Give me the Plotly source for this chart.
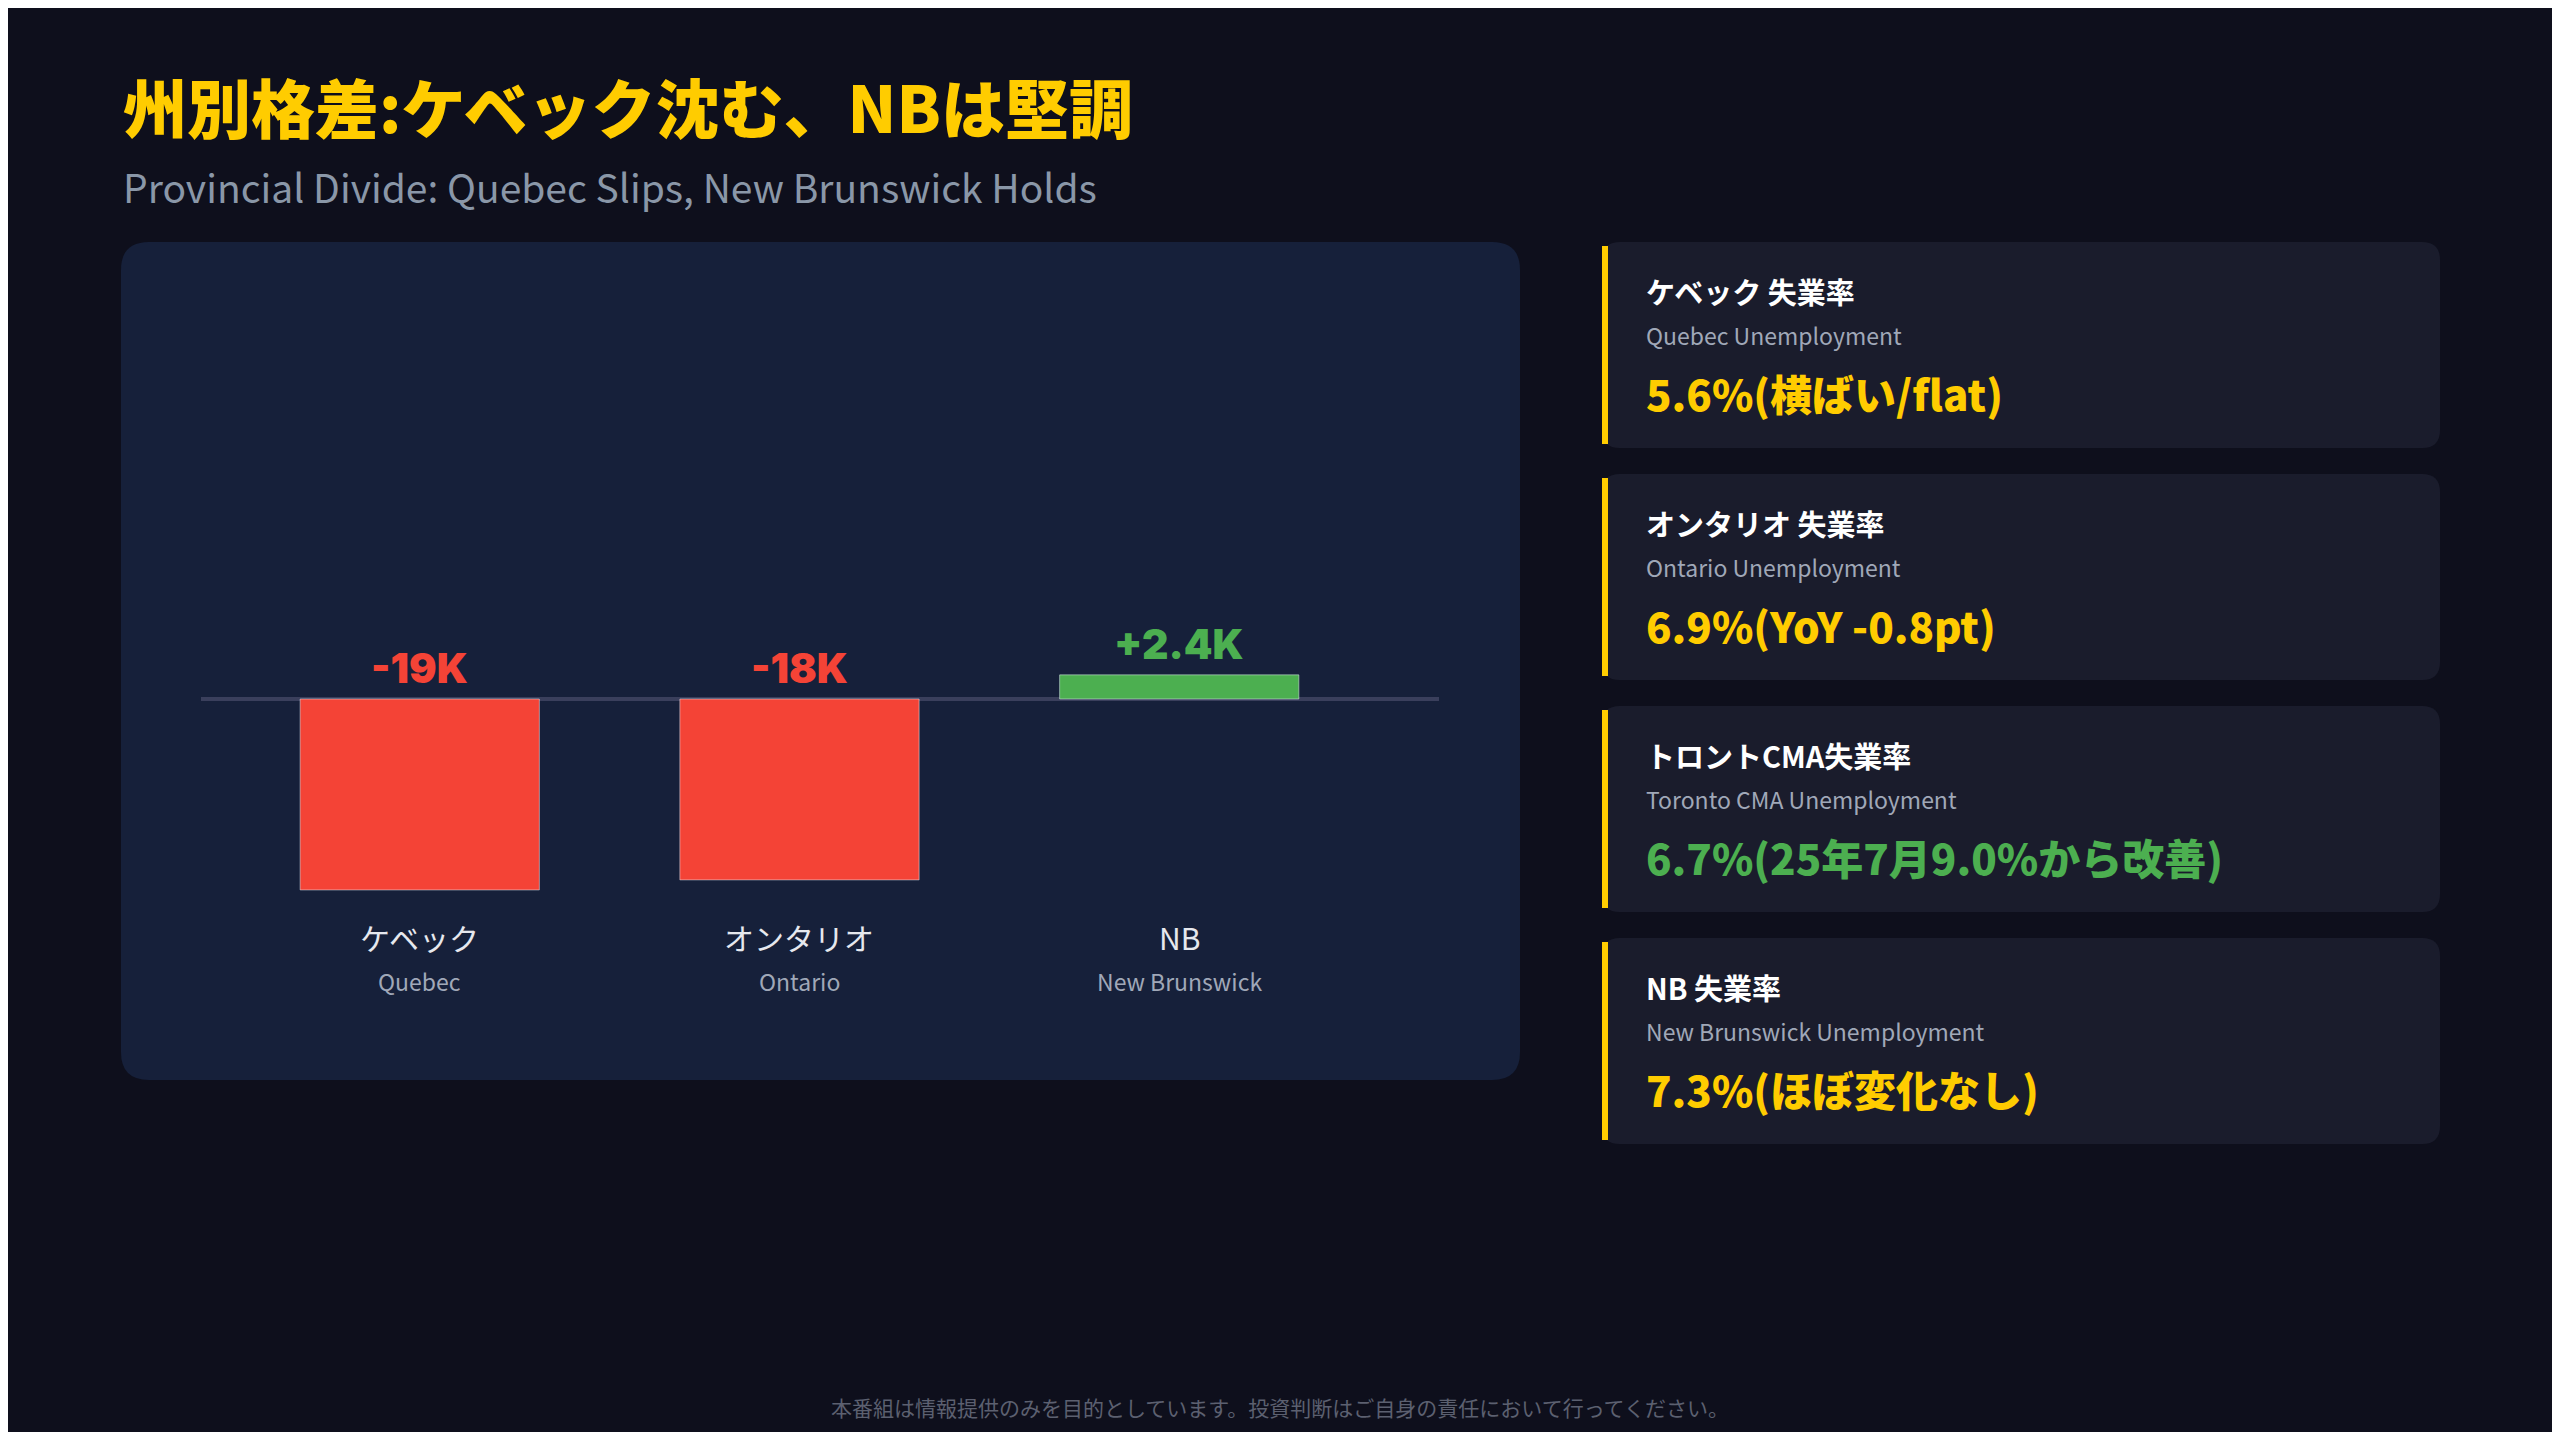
import plotly.graph_objects as go

# データ(千人単位の雇用変化)
provinces_jp = ["ケベック", "オンタリオ", "NB"]
provinces_en = ["Quebec", "Ontario", "New Brunswick"]
changes_k = [-19, -18, 2.4]
change_labels = ["-19K", "-18K", "+2.4K"]

card_titles = ["ケベック 失業率", "オンタリオ 失業率", "トロントCMA失業率", "NB 失業率"]
card_subtitles = ["Quebec Unemployment", "Ontario Unemployment",
                  "Toronto CMA Unemployment", "New Brunswick Unemployment"]
card_values = ["5.6%(横ばい/flat)", "6.9%(YoY -0.8pt)",
               "6.7%(25年7月9.0%から改善)", "7.3%(ほぼ変化なし)"]
card_colors = ["#ffcc00", "#ffcc00", "#4caf50", "#ffcc00"]

# ページ余白(8px)を差し引いた描画サイズ
OFF = 8
W, H = 2560 - 2 * OFF, 1440 - 2 * OFF
BG = "#0e0f1c"
FONT = "Noto Sans CJK JP"
RED, GREEN = "#f44336", "#4caf50"


def px(x, y):
    return (x - OFF) / W, 1 - (y - OFF) / H


def rounded_rect(x0, y0, x1, y1, r):
    a, b = px(x0, y0)
    c, d = px(x1, y1)
    rx, ry = r / W, r / H
    return (f"M{a+rx},{b} L{c-rx},{b} Q{c},{b} {c},{b-ry} L{c},{d+ry} Q{c},{d} {c-rx},{d} "
            f"L{a+rx},{d} Q{a},{d} {a},{d+ry} L{a},{b-ry} Q{a},{b} {a+rx},{b} Z")


fig = go.Figure()
fig.add_trace(go.Bar(
    x=list(range(len(changes_k))), y=changes_k, width=0.63,
    marker_color=[RED if v < 0 else GREEN for v in changes_k],
    hoverinfo="skip",
))

shapes = [dict(type="path", xref="paper", yref="paper", layer="below",
               path=rounded_rect(121, 242, 1520, 1080, 28),
               fillcolor="#16203a", line_width=0)]
annotations = []

# 値ラベルとカテゴリラベル
low = min(min(changes_k), 0)
for i, v in enumerate(changes_k):
    annotations.append(dict(x=i, y=max(v, 0), xref="x", yref="y", text=change_labels[i],
                            showarrow=False, yanchor="bottom", yshift=4,
                            font=dict(family="Inter", size=41, weight=900,
                                      color=RED if v < 0 else GREEN)))
    annotations.append(dict(x=i, y=low, xref="x", yref="y", text=provinces_jp[i],
                            showarrow=False, yanchor="middle", yshift=-47,
                            font=dict(family=FONT, size=30, color="#e6e8ee")))
    annotations.append(dict(x=i, y=low, xref="x", yref="y", text=provinces_en[i],
                            showarrow=False, yanchor="middle", yshift=-91,
                            font=dict(family=FONT, size=23, color="#a0a8b8")))

# 右側のカード
for k in range(len(card_titles)):
    top = 242 + k * 232
    shapes.append(dict(type="path", xref="paper", yref="paper", layer="below",
                       path=rounded_rect(1602, top, 2440, top + 206, 18),
                       fillcolor="#1a1c2c", line_width=0))
    x0, y0 = px(1602, top + 4)
    x1, y1 = px(1608, top + 202)
    shapes.append(dict(type="rect", xref="paper", yref="paper", x0=x0, x1=x1, y0=y1, y1=y0,
                       fillcolor="#ffcc00", line_width=0))
    for dy, txt, f in [
        (49, card_titles[k], dict(family=FONT, size=29, weight=700, color="#ffffff")),
        (93, card_subtitles[k], dict(family=FONT, size=23, color="#a0a8b8")),
        (150, card_values[k], dict(family=FONT, size=42, weight=900, color=card_colors[k])),
    ]:
        ax, ay = px(1644, top + dy)
        annotations.append(dict(x=ax, y=ay, xref="paper", yref="paper", text=txt,
                                showarrow=False, xanchor="left", yanchor="middle", font=f))

# タイトル・フッター
for (x, y), txt, f, xa in [
    ((121, 105), "州別格差:ケベック沈む、NBは堅調",
     dict(family=FONT, size=64, weight=900, color="#ffcc00"), "left"),
    ((121, 186), "Provincial Divide: Quebec Slips, New Brunswick Holds",
     dict(family=FONT, size=39, color="#8a97a8"), "left"),
    ((1280, 1407), "本番組は情報提供のみを目的としています。投資判断はご自身の責任において行ってください。",
     dict(family=FONT, size=21, color="#5c6070"), "center"),
]:
    ax, ay = px(x, y)
    annotations.append(dict(x=ax, y=ay, xref="paper", yref="paper", text=txt, showarrow=False,
                            xanchor=xa, yanchor="middle", font=f))

# ゼロライン
zx0, _ = px(201, 0)
zx1, _ = px(1439, 0)
shapes.append(dict(type="line", xref="paper", yref="y", x0=zx0, x1=zx1, y0=0, y1=0,
                   line=dict(color="#3a3f5c", width=4), layer="below"))

ya, yb = px(0, 1000)[1], px(0, 300)[1]
fig.update_layout(
    width=W, height=H, margin=dict(l=0, r=0, t=0, b=0),
    paper_bgcolor=BG, plot_bgcolor="rgba(0,0,0,0)", showlegend=False,
    xaxis=dict(domain=[px(201, 0)[0], px(1439, 0)[0]], range=[-0.576, 2.684], visible=False),
    yaxis=dict(domain=[ya, yb], range=[-29.95, 39.7], visible=False),
    shapes=shapes, annotations=annotations,
)

fig.write_html("out.html")
